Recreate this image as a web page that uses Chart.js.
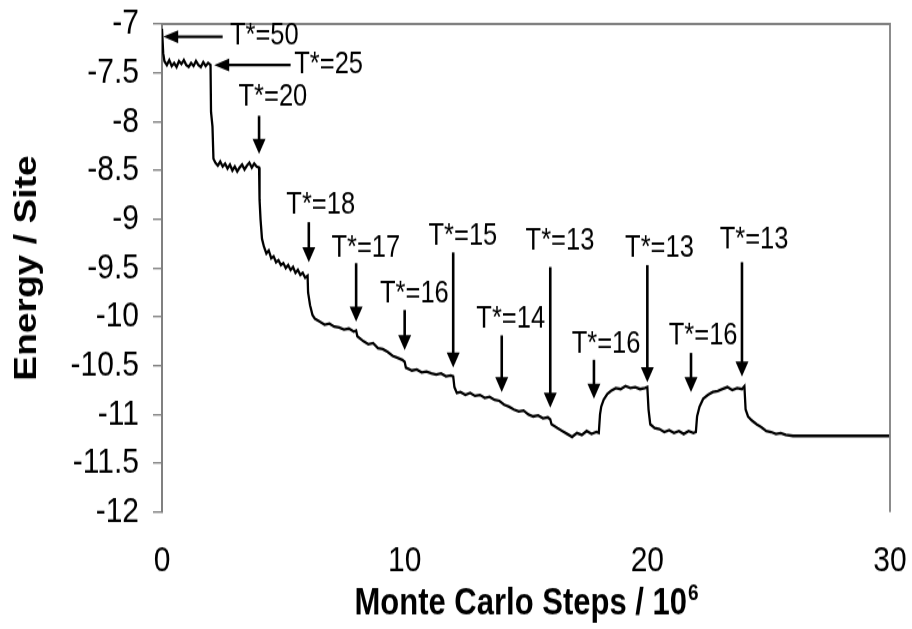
<!DOCTYPE html>
<html>
<head>
<meta charset="utf-8">
<script src="https://cdn.jsdelivr.net/npm/chart.js@4.4.0/dist/chart.umd.min.js"></script>
<style>
  html, body { margin: 0; padding: 0; background: #fff; }
  body { width: 912px; height: 629px; }
  /* the original figure is a little stretched vertically: draw at 912x524 and stretch to 629 */
  #wrap { width: 912px; height: 524px; transform: scale(1, 1.2); transform-origin: 0 0; }
</style>
</head>
<body>
<div id="wrap"><canvas id="energyChart" width="912" height="524"></canvas></div>
<script>
/*---------------------------- data ----------------------------*/
// Monte Carlo steps (10^6)
var steps = [
    0, 0.05, 0.1, 0.2, 0.3, 0.4, 0.5, 0.6, 0.7, 0.8, 0.9, 1.0, 1.1, 1.2, 1.3, 1.4, 1.5, 1.6, 1.7, 1.8, 1.9, 2.0,
    2.02, 2.08, 2.12, 2.2, 2.3, 2.4, 2.5, 2.6, 2.7, 2.8, 2.9, 3.0, 3.1, 3.2, 3.3, 3.4, 3.5, 3.6, 3.7, 3.8, 3.9, 4.0,
    4.02, 4.06, 4.12, 4.2, 4.3, 4.4, 4.5, 4.6, 4.7, 4.8, 4.9, 5.0, 5.1, 5.2, 5.3, 5.4, 5.5, 5.6, 5.7, 5.8, 5.9, 6.0,
    6.02, 6.1, 6.2, 6.3, 6.5, 6.7, 6.9, 7.1, 7.3, 7.5, 7.7, 7.9, 8.0,
    8.05, 8.3, 8.5, 8.7, 8.9, 9.1, 9.3, 9.5, 9.7, 9.9, 10.0,
    10.05, 10.3, 10.5, 10.7, 10.9, 11.1, 11.3, 11.5, 11.7, 11.9, 12.0,
    12.05, 12.15, 12.3, 12.5, 12.7, 12.9, 13.1, 13.3, 13.5, 13.7, 13.9, 14.1, 14.3, 14.5, 14.7, 14.9, 15.1, 15.3, 15.5, 15.7, 15.9, 16.0,
    16.05, 16.3, 16.5, 16.7, 16.9, 17.1, 17.3, 17.5, 17.7, 17.9, 18.0,
    18.05, 18.1, 18.2, 18.35, 18.5, 18.7, 18.9, 19.1, 19.3, 19.5, 19.7, 19.9, 20.0,
    20.05, 20.12, 20.3, 20.5, 20.7, 20.9, 21.1, 21.3, 21.5, 21.7, 21.9, 22.0,
    22.05, 22.15, 22.3, 22.5, 22.7, 22.9, 23.1, 23.3, 23.5, 23.7, 23.9, 24.0,
    24.05, 24.15, 24.3, 24.5, 24.7, 24.9, 25.1, 25.3, 25.5, 25.7, 26.0, 30
];
// Energy / Site
var energy = [
    -7.05, -7.30, -7.38, -7.42, -7.37, -7.43, -7.40, -7.44, -7.38, -7.41, -7.37, -7.42, -7.44, -7.40, -7.43, -7.38, -7.42, -7.44, -7.39, -7.43, -7.40, -7.42,
    -7.90, -8.05, -8.38, -8.42, -8.45, -8.41, -8.46, -8.43, -8.48, -8.44, -8.50, -8.46, -8.51, -8.47, -8.44, -8.49, -8.45, -8.42, -8.47, -8.43, -8.46, -8.47,
    -8.80, -9.00, -9.20, -9.28, -9.35, -9.32, -9.40, -9.38, -9.44, -9.42, -9.47, -9.45, -9.50, -9.47, -9.52, -9.49, -9.55, -9.52, -9.57, -9.55, -9.60, -9.58,
    -9.75, -9.88, -9.98, -10.02, -10.05, -10.08, -10.07, -10.10, -10.11, -10.13, -10.12, -10.15, -10.14,
    -10.20, -10.25, -10.28, -10.27, -10.32, -10.33, -10.36, -10.40, -10.42, -10.44, -10.46,
    -10.52, -10.55, -10.54, -10.57, -10.56, -10.58, -10.59, -10.58, -10.61, -10.60, -10.61,
    -10.72, -10.78, -10.77, -10.80, -10.78, -10.81, -10.80, -10.83, -10.82, -10.85, -10.86, -10.90, -10.92, -10.95, -10.97, -10.96, -11.00, -11.02, -11.01, -11.04, -11.03, -11.05,
    -11.10, -11.14, -11.17, -11.20, -11.23, -11.19, -11.21, -11.17, -11.20, -11.18, -11.19,
    -11.00, -10.92, -10.85, -10.79, -10.76, -10.73, -10.74, -10.71, -10.73, -10.72, -10.74, -10.73, -10.72,
    -10.95, -11.10, -11.14, -11.15, -11.18, -11.16, -11.19, -11.17, -11.20, -11.17, -11.19, -11.18,
    -11.02, -10.92, -10.84, -10.80, -10.77, -10.76, -10.74, -10.72, -10.75, -10.73, -10.74, -10.71,
    -10.95, -11.02, -11.06, -11.10, -11.13, -11.17, -11.18, -11.20, -11.19, -11.21, -11.22, -11.22
];

// axis ranges / ticks
var xMin = 0, xMax = 30, xStep = 10;
var yMin = -12, yMax = -7, yStep = 0.5;

// horizontal arrows (tail -> tip), data units
var hArrowText = ['T*=50', 'T*=25'];
var hArrowTailX = [2.5, 5.3];
var hArrowTipX = [0.05, 2.15];
var hArrowY = [-7.13, -7.42];
var hTextX = [2.8, 5.45];
var hTextY = [-7.12, -7.42];

// vertical arrows (tail above -> tip below), data units
var vArrowText = ['T*=20', 'T*=18', 'T*=17', 'T*=16', 'T*=15', 'T*=14', 'T*=13', 'T*=16', 'T*=13', 'T*=16', 'T*=13'];
var vArrowX = [4, 6.05, 8, 10, 12, 14, 16, 17.8, 20, 21.8, 23.9];
var vArrowTail = [-7.94, -9.03, -9.45, -9.93, -9.34, -10.19, -9.49, -10.44, -9.47, -10.37, -9.44];
var vArrowTip = [-8.33, -9.44, -10.05, -10.34, -10.52, -10.77, -10.93, -10.84, -10.67, -10.77, -10.61];
var vTextX = [4.57, 6.54, 8.4, 10.4, 12.4, 14.37, 16.4, 18.3, 20.5, 22.3, 24.4];
var vTextY = [-7.75, -8.85, -9.30, -9.77, -9.18, -10.02, -9.22, -10.28, -9.30, -10.20, -9.21];

/*---------------------------- helpers ----------------------------*/
var FONT = '"Liberation Sans", Arial, sans-serif';
var AXIS_GREY = '#808080';

function arrowHead(ctx, x, y, dir) {
    // filled triangle, tip at (x, y); canvas is stretched 1.2x vertically afterwards
    ctx.beginPath();
    if (dir === 'left') {
        ctx.moveTo(x, y);
        ctx.lineTo(x + 15, y - 5.4);
        ctx.lineTo(x + 15, y + 5.4);
    } else {
        ctx.moveTo(x, y);
        ctx.lineTo(x - 6.5, y - 12.5);
        ctx.lineTo(x + 6.5, y - 12.5);
    }
    ctx.closePath();
    ctx.fill();
}

// frame on top / right + notes + x title with superscript
var notesPlugin = {
    id: 'notes',
    afterDatasetsDraw: function (chart) {
        var ctx = chart.ctx;
        var xs = chart.scales.x, ys = chart.scales.y;
        var area = chart.chartArea;
        ctx.save();

        // plot frame (top & right)
        ctx.strokeStyle = AXIS_GREY;
        ctx.lineWidth = 1.8;
        ctx.beginPath();
        ctx.moveTo(area.left, area.top);
        ctx.lineTo(area.right, area.top);
        ctx.lineTo(area.right, area.bottom);
        ctx.stroke();

        ctx.fillStyle = '#000';
        ctx.strokeStyle = '#000';
        ctx.font = '25.5px ' + FONT;
        ctx.textBaseline = 'middle';

        var i, x0, x1, y0, y1;
        ctx.lineWidth = 2.2;
        for (i = 0; i < hArrowText.length; i++) {
            x0 = xs.getPixelForValue(hArrowTailX[i]);
            x1 = xs.getPixelForValue(hArrowTipX[i]);
            y0 = ys.getPixelForValue(hArrowY[i]);
            ctx.beginPath();
            ctx.moveTo(x0, y0);
            ctx.lineTo(x1 + 10, y0);
            ctx.stroke();
            arrowHead(ctx, x1, y0, 'left');
            ctx.textAlign = 'left';
            ctx.fillText(hArrowText[i], xs.getPixelForValue(hTextX[i]), ys.getPixelForValue(hTextY[i]));
        }
        ctx.lineWidth = 2.6;
        for (i = 0; i < vArrowText.length; i++) {
            x0 = xs.getPixelForValue(vArrowX[i]);
            y0 = ys.getPixelForValue(vArrowTail[i]);
            y1 = ys.getPixelForValue(vArrowTip[i]);
            ctx.beginPath();
            ctx.moveTo(x0, y0);
            ctx.lineTo(x0, y1 - 8);
            ctx.stroke();
            arrowHead(ctx, x0, y1, 'down');
            ctx.textAlign = 'center';
            ctx.fillText(vArrowText[i], xs.getPixelForValue(vTextX[i]), ys.getPixelForValue(vTextY[i]));
        }

        // x axis title: Monte Carlo Steps / 10^6
        var main = 'Monte Carlo Steps / 10';
        ctx.font = 'bold 31px ' + FONT;
        var w1 = ctx.measureText(main).width;
        ctx.font = 'bold 19px ' + FONT;
        var w2 = ctx.measureText('6').width;
        var cx = (area.left + area.right) / 2;
        var startX = cx - (w1 + w2) / 2;
        ctx.textAlign = 'left';
        ctx.textBaseline = 'alphabetic';
        ctx.font = 'bold 31px ' + FONT;
        ctx.fillText(main, startX, 512);
        ctx.font = 'bold 19px ' + FONT;
        ctx.fillText('6', startX + w1 + 1, 500);
        ctx.restore();
    }
};

var chart = new Chart(document.getElementById('energyChart'), {
    type: 'line',
    data: {
        labels: steps,
        datasets: [{
            label: 'Energy / Site',
            data: steps.map(function (s, i) { return { x: s, y: energy[i] }; }),
            borderColor: '#000',
            borderWidth: 2.3,
            pointRadius: 0,
            tension: 0,
            fill: false
        }]
    },
    options: {
        responsive: false,
        animation: false,
        devicePixelRatio: 1,
        layout: { padding: { top: 20, right: 22, left: 0, bottom: 0 } },
        plugins: { legend: { display: false }, tooltip: { enabled: false } },
        scales: {
            x: {
                type: 'linear',
                min: xMin, max: xMax,
                afterFit: function (scale) {
                    scale.height = 97.3;
                    scale.paddingLeft = 0;
                    scale.paddingRight = 0;
                },
                grid: { display: false, drawTicks: false },
                border: { display: false },
                ticks: {
                    stepSize: xStep,
                    padding: 23,
                    color: '#000',
                    font: { family: FONT, size: 30 },
                    maxRotation: 0
                }
            },
            y: {
                type: 'linear',
                min: yMin, max: yMax,
                afterFit: function (scale) {
                    scale.width = 162;
                    scale.paddingTop = 0;
                    scale.paddingBottom = 0;
                },
                grid: {
                    drawOnChartArea: false,
                    drawTicks: true,
                    tickLength: 9,
                    color: AXIS_GREY,
                    lineWidth: 1.4
                },
                border: { display: true, color: AXIS_GREY, width: 2 },
                title: {
                    display: true,
                    text: 'Energy / Site',
                    color: '#000',
                    font: { family: FONT, size: 31, weight: 'bold' },
                    padding: { top: 9, bottom: 0 }
                },
                ticks: {
                    stepSize: yStep,
                    padding: 14,
                    color: '#000',
                    font: { family: FONT, size: 30 },
                    callback: function (v) { return String(v); }
                }
            }
        }
    },
    plugins: [notesPlugin]
});
</script>
</body>
</html>
